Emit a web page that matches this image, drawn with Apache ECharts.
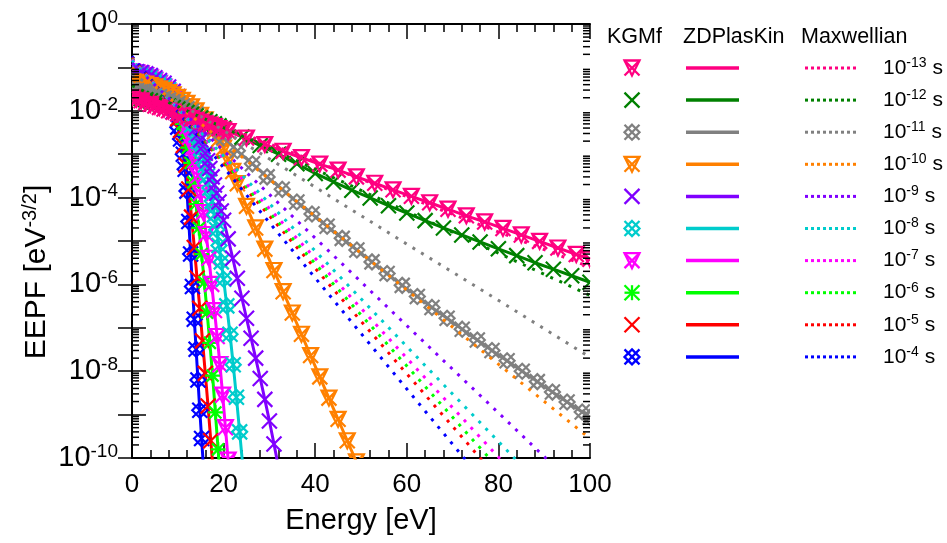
<!DOCTYPE html>
<html><head><meta charset="utf-8">
<script src="https://cdn.jsdelivr.net/npm/echarts@6/dist/echarts.min.js"></script>
<style>html,body{margin:0;padding:0;background:#fff}#c{width:947px;height:543px}</style>
</head><body><div id="c"></div>
<script>
// ---- data (energy [eV], EEPF [eV^-3/2]) ----
const timeExponents = ['-13','-12','-11','-10','-9','-8','-7','-6','-5','-4'];
const seriesColors = ['#ff0080','#008000','#808080','#ff8000','#8000ff','#00cccc','#ff00ff','#00ff00','#ff0000','#0000ff'];
const markerKinds = ['cat','x','lattice','cat','x','lattice','cat','star','x','lattice'];

const kgmf_13 = [[0,2.0e-2],[1,1.86e-2],[2,1.70e-2],[3,1.55e-2],[4,1.41e-2],[5,1.29e-2],[6,1.20e-2],[7,1.10e-2],[8,1.0e-2],[9,9.3e-3],[10,8.5e-3],[11,7.8e-3],[12,7.1e-3],[13,6.6e-3],[14,6.0e-3],[15,5.5e-3],[16,5.0e-3],[17,4.7e-3],[18,4.3e-3],[19,3.9e-3],[20,3.6e-3],[21,3.3e-3],[25,2.35e-3],[29,1.66e-3],[33,1.17e-3],[37,8.3e-4],[41,5.9e-4],[45,4.3e-4],[49,3.0e-4],[53,2.14e-4],[57,1.51e-4],[61,1.07e-4],[65,7.6e-5],[69,5.4e-5],[73,3.8e-5],[77,2.75e-5],[81,1.95e-5],[85,1.38e-5],[89,9.8e-6],[93,6.9e-6],[97,4.9e-6],[100,3.8e-6]];
const kgmf_12 = [[0,2.1e-2],[1,2.0e-2],[2,1.91e-2],[3,1.8e-2],[4,1.7e-2],[5,1.58e-2],[6,1.48e-2],[7,1.38e-2],[8,1.29e-2],[9,1.19e-2],[10,1.1e-2],[11,1.0e-2],[12,9.1e-3],[13,8.3e-3],[14,7.6e-3],[15,6.8e-3],[16,6.2e-3],[17,5.6e-3],[18,5.0e-3],[19,4.5e-3],[20,4.0e-3],[24,2.5e-3],[28,1.58e-3],[32,1.0e-3],[36,6.0e-4],[40,3.6e-4],[44,2.29e-4],[48,1.48e-4],[52,9.8e-5],[56,6.5e-5],[60,4.4e-5],[64,2.95e-5],[68,2.0e-5],[72,1.38e-5],[76,9.5e-6],[80,6.6e-6],[84,4.6e-6],[88,3.16e-6],[92,2.24e-6],[96,1.58e-6],[100,1.12e-6]];
const kgmf_11 = [[0,3.0e-2],[1,2.9e-2],[2,2.75e-2],[3,2.6e-2],[4,2.45e-2],[5,2.3e-2],[6,2.1e-2],[7,1.95e-2],[8,1.78e-2],[9,1.62e-2],[10,1.45e-2],[11,1.29e-2],[12,1.12e-2],[13,9.8e-3],[14,8.3e-3],[15,6.9e-3],[16,5.75e-3],[17,4.7e-3],[18,3.8e-3],[19,3.0e-3],[20,2.4e-3],[23,1.2e-3],[26.3,6.0e-4],[29.5,3.0e-4],[32.8,1.55e-4],[36,7.9e-5],[39.3,4.2e-5],[42.6,2.19e-5],[45.9,1.15e-5],[49.1,6.2e-6],[52.4,3.3e-6],[55.7,1.78e-6],[59,9.5e-7],[62.3,5.25e-7],[65.5,2.95e-7],[68.8,1.66e-7],[72.1,9.3e-8],[75.4,5.25e-8],[78.6,3.0e-8],[81.9,1.74e-8],[85.2,1.0e-8],[88.5,5.75e-9],[91.8,3.3e-9],[95,1.95e-9],[98.3,1.15e-9],[100,8.7e-10]];
const kgmf_10 = [[0,4.6e-2],[1,4.5e-2],[2,4.3e-2],[3,4.1e-2],[4,3.8e-2],[5,3.55e-2],[6,3.2e-2],[7,2.95e-2],[8,2.63e-2],[9,2.34e-2],[10,2.04e-2],[11,1.74e-2],[12,1.48e-2],[13,1.23e-2],[14,1.0e-2],[15,7.9e-3],[16,6.2e-3],[17,4.6e-3],[18,3.3e-3],[19,2.24e-3],[20,1.38e-3],[21,7.6e-4],[22,4.0e-4],[23,2.09e-4],[25,6.3e-5],[27,2.0e-5],[29,6.5e-6],[31,2.09e-6],[33,6.8e-7],[35,2.19e-7],[37,7.1e-8],[39,2.29e-8],[41,7.4e-9],[43,2.4e-9],[45,7.8e-10],[47,2.5e-10],[49,8.1e-11]];
const kgmf_9 = [[0,8.3e-2],[1,7.9e-2],[2,7.6e-2],[3,7.1e-2],[4,6.5e-2],[5,5.75e-2],[6,5.0e-2],[7,4.3e-2],[8,3.55e-2],[9,2.8e-2],[10,2.14e-2],[11,1.55e-2],[12,1.05e-2],[13,6.6e-3],[14,4.0e-3],[14.5,2.95e-3],[15,2.14e-3],[15.5,1.51e-3],[16,1.05e-3],[16.5,7.1e-4],[17,4.7e-4],[17.5,3.0e-4],[18,1.95e-4],[18.5,1.26e-4],[19,7.9e-5],[19.5,4.9e-5],[20,3.0e-5],[21,1.12e-5],[22,4.0e-6],[23,1.38e-6],[24,4.8e-7],[25,1.66e-7],[26,5.75e-8],[27,2.0e-8],[28,6.8e-9],[29,2.24e-9],[30,7.1e-10],[31,2.1e-10],[32,6.0e-11]];
const kgmf_8 = [[0,8.1e-2],[1,7.8e-2],[2,7.2e-2],[3,6.6e-2],[4,6.0e-2],[5,5.25e-2],[6,4.6e-2],[7,3.8e-2],[8,3.1e-2],[9,2.4e-2],[10,1.74e-2],[11,1.17e-2],[12,7.6e-3],[13,4.7e-3],[14,2.75e-3],[14.5,2.0e-3],[15,1.38e-3],[15.5,9.1e-4],[16,5.6e-4],[16.5,3.2e-4],[17,1.66e-4],[17.5,8.3e-5],[18,4.0e-5],[18.5,1.82e-5],[19,7.9e-6],[19.5,3.3e-6],[20,1.32e-6],[20.7,3.2e-7],[21.4,7.1e-8],[22.1,1.41e-8],[22.8,2.5e-9],[23.5,4.0e-10],[24.2,6.3e-11]];
const kgmf_7 = [[0,7.9e-2],[1,7.6e-2],[2,7.1e-2],[3,6.5e-2],[4,5.75e-2],[5,5.0e-2],[6,4.3e-2],[7,3.5e-2],[8,2.7e-2],[9,1.95e-2],[10,1.32e-2],[11,7.9e-3],[12,4.2e-3],[12.6,2.5e-3],[13.2,1.41e-3],[13.8,7.1e-4],[14.4,3.2e-4],[15,1.26e-4],[15.6,4.5e-5],[16.2,1.41e-5],[16.8,4.0e-6],[17.4,1.0e-6],[18,2.5e-7],[18.6,6.3e-8],[19.2,1.41e-8],[19.8,2.8e-9],[20.4,5.0e-10],[21,8.9e-11],[21.6,1.6e-11]];
const kgmf_6 = [[0,7.8e-2],[1,7.4e-2],[2,6.9e-2],[3,6.3e-2],[4,5.6e-2],[5,4.9e-2],[6,4.1e-2],[7,3.2e-2],[8,2.45e-2],[9,1.66e-2],[10,1.0e-2],[11,5.0e-3],[11.6,2.8e-3],[12.2,1.41e-3],[12.8,6.3e-4],[13.4,2.24e-4],[14,7.1e-5],[14.6,2.0e-5],[15.2,5.0e-6],[15.8,1.12e-6],[16.4,2.24e-7],[17,4.5e-8],[17.6,7.9e-9],[18.2,1.12e-9],[18.8,1.58e-10],[19.4,2.24e-11]];
const kgmf_5 = [[0,7.6e-2],[1,7.2e-2],[2,6.8e-2],[3,6.2e-2],[4,5.4e-2],[5,4.6e-2],[6,3.8e-2],[7,2.95e-2],[8,2.14e-2],[9,1.32e-2],[10,6.6e-3],[10.6,3.55e-3],[11.2,1.58e-3],[11.8,5.6e-4],[12.4,1.58e-4],[13,3.55e-5],[13.6,7.1e-6],[14.2,1.41e-6],[14.8,2.8e-7],[15.4,5.0e-8],[16,8.9e-9],[16.6,1.58e-9],[17.2,2.5e-10],[17.8,4.0e-11]];
const kgmf_4 = [[0,7.4e-2],[1,7.1e-2],[2,6.6e-2],[3,6.0e-2],[4,5.25e-2],[5,4.5e-2],[6,3.6e-2],[7,2.75e-2],[8,1.78e-2],[9,9.5e-3],[10,4.2e-3],[10.6,2.24e-3],[11.2,1.0e-3],[11.6,4.5e-4],[12,1.41e-4],[12.4,2.8e-5],[12.8,5.0e-6],[13.2,8.9e-7],[13.6,1.58e-7],[14,3.2e-8],[14.4,6.3e-9],[14.8,1.26e-9],[15.2,2.8e-10],[15.6,6.3e-11]];

const maxw_13 = [[0,2.8e-2],[20,4.4e-3],[40,6.8e-4],[60,1.05e-4],[80,1.62e-5],[100,2.5e-6]];
const maxw_12 = [[0,3.8e-2],[20,4.1e-3],[40,4.5e-4],[60,4.8e-5],[80,5.25e-6],[100,5.6e-7]];
const maxw_11 = [[0,7.1e-2],[20,3.5e-3],[40,1.74e-4],[60,8.5e-6],[80,4.3e-7],[100,2.1e-8]];
const maxw_10 = [[0,9.8e-2],[20,1.9e-3],[40,3.7e-5],[60,7.4e-7],[80,1.45e-8],[100,2.8e-10]];
const maxw_9 = [[0,1.26e-1],[20,1.2e-3],[40,1.17e-5],[60,1.12e-7],[80,1.1e-9],[100,1.05e-11]];
const maxw_8 = [[0,1.43e-1],[20,9.1e-4],[40,5.9e-6],[60,3.7e-8],[80,2.4e-10],[100,1.5e-12]];
const maxw_7 = [[0,1.53e-1],[20,7.8e-4],[40,4.0e-6],[60,2.0e-8],[80,1.05e-10],[100,5.2e-13]];
const maxw_6 = [[0,1.58e-1],[20,6.9e-4],[40,3.0e-6],[60,1.32e-8],[80,5.75e-11],[100,2.5e-13]];
const maxw_5 = [[0,1.66e-1],[20,6.2e-4],[40,2.34e-6],[60,8.7e-9],[80,3.3e-11],[100,1.23e-13]];
const maxw_4 = [[0,1.8e-1],[20,5.0e-4],[40,1.41e-6],[60,3.9e-9],[80,1.1e-11],[100,3.0e-14]];

const kgmfAll = [kgmf_13,kgmf_12,kgmf_11,kgmf_10,kgmf_9,kgmf_8,kgmf_7,kgmf_6,kgmf_5,kgmf_4];
const maxwAll = [maxw_13,maxw_12,maxw_11,maxw_10,maxw_9,maxw_8,maxw_7,maxw_6,maxw_5,maxw_4];

// ---- rendering ----
const FONT = 'Arial, "Liberation Sans", sans-serif';
const MARKER_PATHS = {
  cat: 'M0,0L10,10M10,0L0,10M0,0L10,0L5,10Z',
  x: 'M0,0L10,10M10,0L0,10',
  lattice: 'M0,0L10,10M10,0L0,10M5,0L10,5L5,10L0,5Z',
  star: 'M1,1L9,9M9,1L1,9M5,0L5,10M0,5L10,5'
};
const MS = 15;

function markerSeries(data, kind, color) {
  return {type:'custom', data:data, z:3, silent:true, clip:true,
    renderItem:function(params, api){
      const p = api.coord([api.value(0), api.value(1)]);
      return {type:'path', shape:{pathData:MARKER_PATHS[kind], x:p[0]-MS/2, y:p[1]-MS/2, width:MS, height:MS, layout:'center'},
        style:{fill:'none', stroke:color, lineWidth:2.2}};
    }};
}

const series = [];
for (let i = kgmfAll.length - 1; i >= 0; i--) {
  const c = seriesColors[i];
  series.push({type:'line', data:kgmfAll[i], symbol:'none', z:2, silent:true,
    lineStyle:{color:c, width:3}});
  series.push(markerSeries(kgmfAll[i], markerKinds[i], c));
}
for (let i = maxwAll.length - 1; i >= 0; i--) {
  series.push({type:'line', data:maxwAll[i], symbol:'none', z:4, silent:true,
    lineStyle:{color:seriesColors[i], width:3, type:[3,7]}});
}

// minor ticks of the log axis (2..9 x 10^k), drawn inward on left and right frame
const yMinorTicks = [];
for (let k = -10; k < 0; k++) for (let m = 2; m <= 9; m++) yMinorTicks.push([0, m * Math.pow(10, k)]);
series.push({type:'custom', silent:true, z:5, clip:false, data:yMinorTicks,
  renderItem:function(params, api){
    const p = api.coord([0, api.value(1)]);
    const q = api.coord([100, api.value(1)]);
    const st = {stroke:'#000', lineWidth:1.5};
    return {type:'group', children:[
      {type:'line', shape:{x1:p[0], y1:p[1], x2:p[0]+7, y2:p[1]}, style:st},
      {type:'line', shape:{x1:q[0]-7, y1:q[1], x2:q[0], y2:q[1]}, style:st}
    ]};
  }});

function yLabel(v) {
  const e = Math.round(Math.log10(v));
  if (e % 2 !== 0) return '';
  return '{b|10}{s|' + e + '}';
}

// legend + y title graphics
const LX = {marker:632, l1:686, l2:739, d1:805, d2:858, text:883, row0:68, step:32.1, head:37, h:7.5};
const graphic = [];
graphic.push({type:'text', x:37, y:272, rotation:Math.PI/2, silent:true,
  style:{text:'{a|EEPF [eV}{s|-3/2}{a|]}', align:'center', verticalAlign:'middle',
    rich:{a:{fontSize:30, fontFamily:FONT, fill:'#000', lineHeight:34},
          s:{fontSize:20, fontFamily:FONT, fill:'#000', verticalAlign:'top', lineHeight:16}}}});
[['KGMf',607],['ZDPlasKin',683],['Maxwellian',801]].forEach(([t,x]) => {
  graphic.push({type:'text', x:x, y:LX.head, silent:true,
    style:{text:t, font:'21.5px ' + FONT, fill:'#000', verticalAlign:'middle', align:'left'}});
});
function markerEls(kind, cx, cy, color) {
  const h = LX.h, st = {stroke:color, lineWidth:2.3, fill:null};
  const els = [
    {type:'line', shape:{x1:cx-h,y1:cy-h,x2:cx+h,y2:cy+h}, style:st},
    {type:'line', shape:{x1:cx+h,y1:cy-h,x2:cx-h,y2:cy+h}, style:st}
  ];
  if (kind === 'cat') els.push({type:'polygon', shape:{points:[[cx-h,cy-h],[cx+h,cy-h],[cx,cy+h]]}, style:st});
  if (kind === 'lattice') els.push({type:'polygon', shape:{points:[[cx,cy-h],[cx+h,cy],[cx,cy+h],[cx-h,cy]]}, style:st});
  if (kind === 'star') {
    els.push({type:'line', shape:{x1:cx,y1:cy-h,x2:cx,y2:cy+h}, style:st});
    els.push({type:'line', shape:{x1:cx-h,y1:cy,x2:cx+h,y2:cy}, style:st});
  }
  return els;
}
timeExponents.forEach((ex, i) => {
  const y = LX.row0 + i * LX.step, c = seriesColors[i];
  markerEls(markerKinds[i], LX.marker, y, c).forEach(e => { e.silent = true; graphic.push(e); });
  graphic.push({type:'line', silent:true, shape:{x1:LX.l1,y1:y,x2:LX.l2,y2:y}, style:{stroke:c, lineWidth:3.5}});
  graphic.push({type:'line', silent:true, shape:{x1:LX.d1,y1:y,x2:LX.d2,y2:y}, style:{stroke:c, lineWidth:3, lineDash:[3,3]}});
  graphic.push({type:'text', x:LX.text, y:y, silent:true,
    style:{text:'{a|10}{s|' + ex + '}{a| s}', verticalAlign:'middle', align:'left',
      rich:{a:{fontSize:21, fontFamily:FONT, fill:'#000', lineHeight:24},
            s:{fontSize:14, fontFamily:FONT, fill:'#000', verticalAlign:'top', lineHeight:12}}}});
});

const xTickStyle = {axisTick:{inside:true, length:15, lineStyle:{color:'#000', width:1.5}},
  minorTick:{show:true, splitNumber:5, length:8, lineStyle:{color:'#000', width:1.5}}};
const yTickStyle = {axisTick:{inside:true, length:14, lineStyle:{color:'#000', width:1.5}},
  minorTick:{show:false}};
const axisCommon = {axisLine:{lineStyle:{color:'#000', width:2}}, splitLine:{show:false}, minorSplitLine:{show:false}};

const option = {
  animation:false,
  backgroundColor:'#fff',
  textStyle:{fontFamily:FONT},
  grid:{left:132, right:357, top:24, bottom:85, containLabel:false},
  xAxis:[
    Object.assign({type:'value', min:0, max:100, interval:20, position:'bottom',
      name:'Energy [eV]', nameLocation:'middle', nameGap:48,
      nameTextStyle:{fontSize:29, color:'#000', fontFamily:FONT},
      axisLabel:{fontSize:26, color:'#000', margin:14, fontFamily:FONT}}, axisCommon, xTickStyle),
    Object.assign({type:'value', min:0, max:100, interval:20, position:'top',
      axisLabel:{show:false}}, axisCommon, xTickStyle)
  ],
  yAxis:[
    Object.assign({type:'log', logBase:10, min:1e-10, max:1, interval:1, position:'left',
      axisLabel:{formatter:yLabel, margin:14, showMinLabel:true, showMaxLabel:true, hideOverlap:false,
        rich:{b:{fontSize:29, color:'#000', fontFamily:FONT, lineHeight:32},
              s:{fontSize:19, color:'#000', fontFamily:FONT, verticalAlign:'top', lineHeight:14}}}}, axisCommon, yTickStyle),
    Object.assign({type:'log', logBase:10, min:1e-10, max:1, interval:1, position:'right',
      axisLabel:{show:false}}, axisCommon, yTickStyle)
  ],
  series:series,
  graphic:graphic
};
const chart = echarts.init(document.getElementById('c'));
chart.setOption(option);
</script>
</body></html>
